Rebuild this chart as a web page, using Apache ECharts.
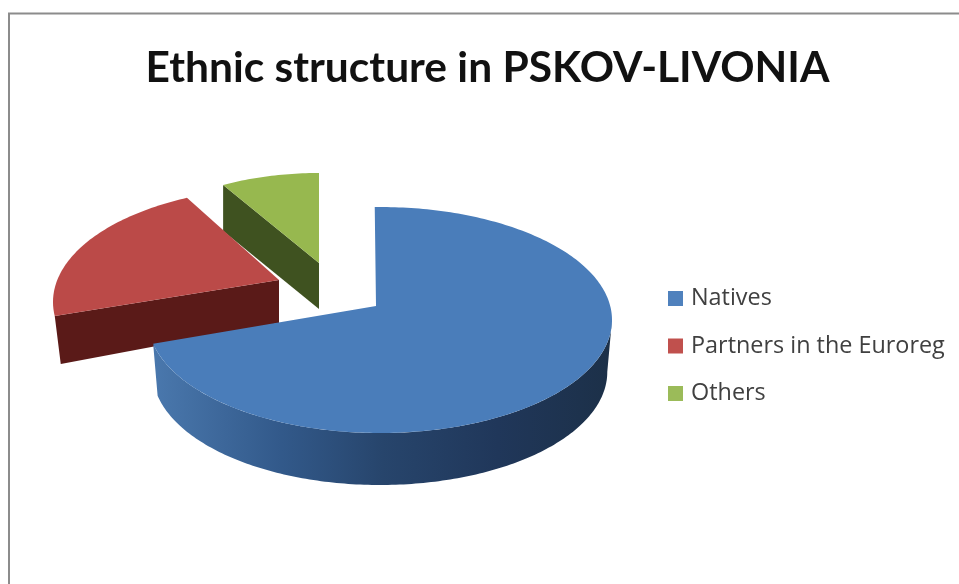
<!DOCTYPE html>
<html>
<head>
<meta charset="utf-8">
<style>html,body{margin:0;padding:0;background:#fff}#c{width:959px;height:584px}</style>
<script src="https://cdn.jsdelivr.net/npm/echarts@6/dist/echarts.min.js"></script>
</head>
<body>
<div id="c"></div>
<script>
var categories = ['Natives', 'Partners in the Euroreg', 'Others'];
var values = [72, 20, 8];
var chartTitle = 'Ethnic structure in PSKOV-LIVONIA';

var total = values.reduce(function (a, b) { return a + b; }, 0);

var geometry = [
  { cx: 380, cy: 320, rx: 232, ry: 113, ax: 376, ay: 306, phase: -1.3, depth: 52, sx: 0.98, sy: 1, rim: true },
  { cx: 285, cy: 302, rx: 232, ry: 115, ax: 279, ay: 280, phase: 3.8, depth: 43, sx: 0.973, sy: 1.14 },
  { cx: 319, cy: 270, rx: 199, ry: 97, ax: 319, ay: 263, phase: 0, depth: 46, sx: 1, sy: 1 }
];
var topColors = ['#4a7dba', '#bb4a48', '#97b84f'];
var legendColors = ['#4f81bd', '#c0504d', '#9bbb59'];
var wallColors = ['#27456c', '#5a1a18', '#3f5220'];
var rimStops = [
  { offset: 0, color: '#4a78ad' },
  { offset: 0.28, color: '#32598a' },
  { offset: 0.5, color: '#27456c' },
  { offset: 0.75, color: '#20375a' },
  { offset: 1, color: '#1c3048' }
];

function pt(g, deg) {
  var t = deg * Math.PI / 180;
  return [g.cx + g.rx * Math.sin(t), g.cy - g.ry * Math.cos(t)];
}
function lower(g, p) {
  return [g.ax + (p[0] - g.ax) * g.sx, g.ay + (p[1] - g.ay) * g.sy + g.depth];
}
function poly(points, fill) {
  return { type: 'polygon', shape: { points: points }, style: { fill: fill }, silent: true };
}

function makeRender(index) {
  return function (params, api) {
    var value = api.value(0);
    var before = 0;
    for (var i = 0; i < index; i++) before += values[i];
    var g = geometry[index];
    var start = before / total * 360 + g.phase;
    var end = start + value / total * 360;
    var kids = [];
    var arc = [], d;
    for (d = start; d < end; d += 1) arc.push(pt(g, d));
    arc.push(pt(g, end));
    if (g.rim) {
      var up = [], low = [];
      for (d = 90; d <= end; d += 1) { up.push(pt(g, d)); low.push(lower(g, pt(g, d))); }
      up.push(pt(g, end)); low.push(lower(g, pt(g, end)));
      kids.push(poly(up.concat(low.reverse()), new echarts.graphic.LinearGradient(0, 0, 1, 0, rimStops)));
    } else {
      var a = [g.ax, g.ay];
      var e = pt(g, start);
      kids.push(poly([a, e, lower(g, e), lower(g, a)], wallColors[index]));
    }
    kids.push(poly([[g.ax, g.ay]].concat(arc), topColors[index]));
    return { type: 'group', children: kids };
  };
}

var order = [2, 1, 0];
var series = order.map(function (i) {
  return {
    type: 'custom',
    name: categories[i],
    coordinateSystem: 'none',
    silent: true,
    animation: false,
    itemStyle: { color: legendColors[i] },
    data: [[values[i]]],
    renderItem: makeRender(i)
  };
});

var chart = echarts.init(document.getElementById('c'), null, { renderer: 'canvas' });
chart.setOption({
  backgroundColor: '#ffffff',
  animation: false,
  title: {
    text: chartTitle,
    left: 482.5,
    top: 42,
    textAlign: 'center',
    textStyle: { fontFamily: 'Lato', fontWeight: 'bold', fontSize: 42.5, color: '#111111' }
  },
  legend: {
    data: categories,
    orient: 'vertical',
    left: 663,
    top: 282,
    padding: 5,
    icon: 'rect',
    itemWidth: 15,
    itemHeight: 15,
    itemGap: 24.5,
    selectedMode: false,
    textStyle: { fontFamily: 'Open Sans', fontSize: 23.4, color: '#404040', padding: [0, 0, 0, 3] }
  },
  graphic: [
    { type: 'polyline', silent: true, z: -1,
      shape: { points: [[9, 584], [9, 13.5], [959, 13.5]] },
      style: { fill: 'none', stroke: '#8c8c8c', lineWidth: 2 } }
  ],
  series: series
});
</script>
</body>
</html>
